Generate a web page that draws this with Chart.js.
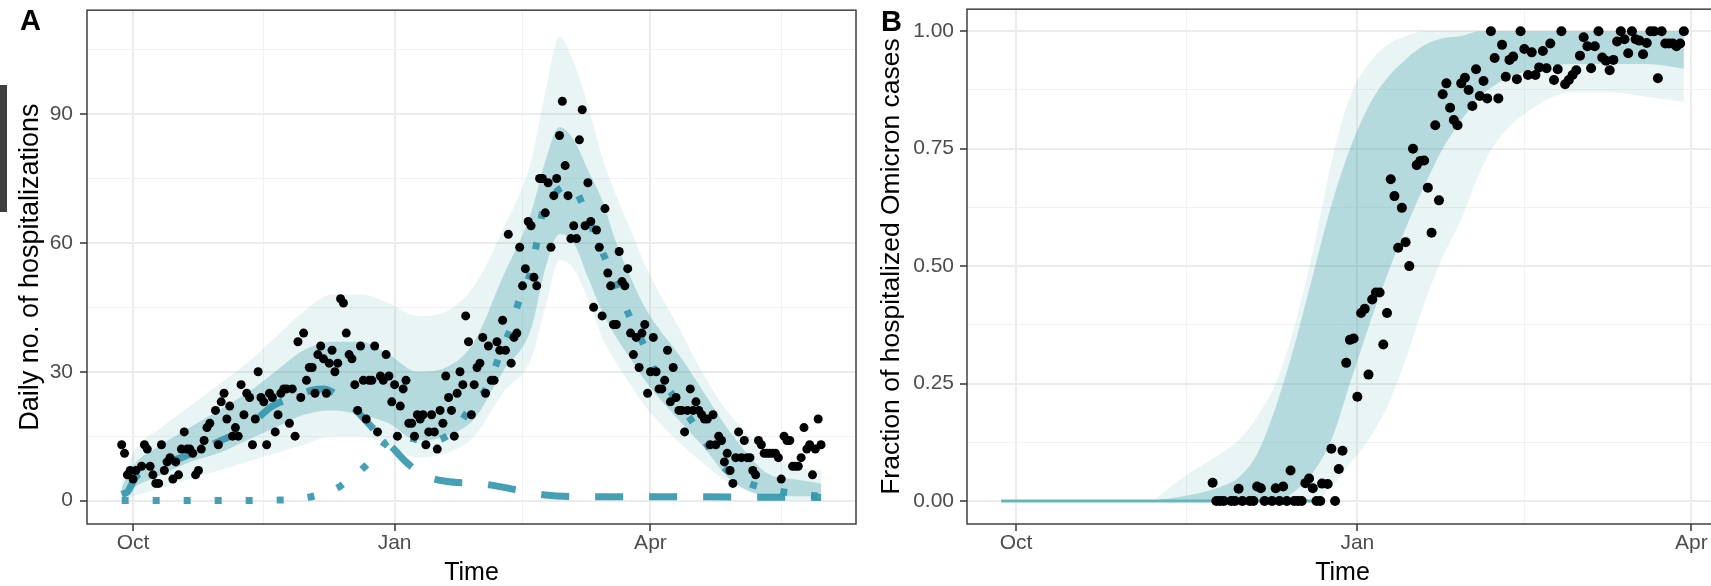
<!DOCTYPE html>
<html lang="en">
<head>
<meta charset="UTF-8">
<title>Hospitalizations and Omicron fraction</title>
<script src="https://cdn.jsdelivr.net/npm/chart.js@4.4.1/dist/chart.umd.min.js"></script>
<style>
  html, body { margin: 0; padding: 0; background: #fff; overflow: hidden; }
  #wrap { position: relative; width: 1711px; height: 586px; overflow: hidden; }
  #boxA { position: absolute; left: 0; top: 0; width: 862px; height: 586px; }
  #boxB { position: absolute; left: 860px; top: 0; width: 866px; height: 586px; }
  .tag { position: absolute; font: bold 29px "Liberation Sans", Arial, sans-serif; line-height: 29px; color: #000; }
  #sideBar { position: absolute; left: 0; top: 85px; width: 7px; height: 127px; background: #3f3f3f; }
</style>
</head>
<body>
<div id="wrap">
  <div id="boxA"><canvas id="chartA"></canvas></div>
  <div id="boxB"><canvas id="chartB"></canvas></div>
  <div class="tag" style="left:20px; top:6px;">A</div>
  <div class="tag" style="left:881px; top:7px;">B</div>
  <div id="sideBar"></div>
</div>
<script>
// x positions are days since 1 Oct
const monthTicks = [0, 92, 182];
const monthLabels = ['Oct', 'Jan', 'Apr'];
const monthMinor = [46, 137, 228];

// ---- panel A: daily hospitalizations ----
const aYTicks = [0, 30, 60, 90];
const aYMinor = [15, 45, 75, 105];

const aObsDays = [-4, -3, -2, -1, 0, 1, 3, 4, 5, 6, 7, 8, 9, 10, 11, 12, 13, 14, 15, 16, 17, 18, 19, 20, 21, 22, 23, 24, 25, 26,
  27, 29, 30, 31, 32, 33, 34, 35, 36, 37, 38, 39, 40, 41, 42, 43, 44, 45, 46, 47, 48, 49, 50, 51, 52, 53, 54, 55, 56, 57,
  58, 59, 60, 61, 62, 63, 64, 65, 66, 67, 68, 69, 70, 71, 72, 73, 74, 75, 76, 77, 78, 79, 80, 81, 82, 83, 84, 85, 86, 87,
  88, 89, 90, 91, 92, 93, 94, 95, 96, 97, 98, 99, 100, 101, 102, 103, 104, 105, 106, 107, 108, 109, 110, 111, 112, 113, 114, 115, 116, 117,
  118, 119, 120, 121, 122, 123, 124, 125, 126, 127, 128, 129, 130, 131, 132, 133, 134, 135, 136, 137, 138, 139, 140, 141, 142, 143, 144, 145, 146, 147,
  148, 149, 150, 151, 152, 153, 154, 155, 156, 157, 158, 159, 160, 161, 162, 163, 164, 165, 166, 167, 168, 169, 170, 171, 172, 173, 174, 175, 176, 177,
  178, 179, 180, 181, 182, 183, 184, 185, 186, 187, 188, 189, 190, 191, 192, 193, 194, 195, 196, 197, 198, 199, 200, 201, 202, 203, 204, 205, 206, 207,
  208, 209, 210, 211, 212, 213, 214, 215, 216, 217, 218, 219, 220, 221, 222, 223, 224, 225, 226, 227, 228, 229, 230, 231, 232, 233, 234, 235, 236, 237,
  238, 239, 240, 241, 242];
const aObserved = [13, 11, 6, 7, 5, 7, 8, 13, 12, 8, 6, 4, 4, 13, 7, 9, 10, 5, 9, 6, 12, 16, 12, 12, 11, 6, 7, 12, 14, 17,
  18, 21, 13, 23, 25, 19, 22, 15, 17, 15, 27, 20, 25, 24, 13, 19, 30, 24, 23, 13, 25, 24, 16, 20, 25, 26, 26, 18, 26, 15,
  37, 24, 39, 28, 31, 31, 25, 34, 36, 33, 25, 32, 35, 30, 32, 47, 46, 39, 34, 33, 27, 21, 36, 28, 19, 28, 28, 36, 16, 29,
  28, 34, 29, 23, 27, 15, 22, 26, 28, 18, 18, 15, 20, 19, 20, 13, 16, 20, 16, 12, 21, 18, 29, 24, 21, 15, 25, 30, 27, 43,
  37, 20, 27, 31, 32, 38, 25, 36, 28, 28, 37, 35, 42, 35, 62, 32, 38, 39, 59, 50, 54, 65, 64, 52, 50, 75, 75, 67, 74, 59,
  71, 75, 85, 93, 78, 71, 61, 64, 61, 84, 91, 64, 74, 65, 45, 63, 59, 43, 68, 53, 50, 41, 41, 58, 51, 50, 54, 39, 34, 38,
  31, 39, 41, 25, 30, 38, 30, 26, 26, 28, 35, 23, 31, 24, 21, 21, 16, 21, 26, 21, 23, 21, 20, 19, 19, 13, 20, 13, 15, 14,
  9, 11, 7, 4, 10, 16, 10, 14, 10, 10, 7, 6, 14, 13, 11, 11, 11, 11, 11, 10, 5, 15, 14, 14, 8, 8, 8, 10, 17, 12,
  13, 6, 12, 19, 13];

const aDeltaDays = [-4, -2, 1, 5, 10, 17, 24, 31, 40, 49, 56, 63, 67, 72, 77, 82, 87, 91, 96, 102, 110, 121, 126, 135, 145, 160, 180, 200, 220, 242];
const aDelta = [1.5, 2, 5.5, 7, 8.5, 10, 12, 14, 17, 22, 24, 25.7, 26, 24.5, 22, 18.5, 15, 12.5, 9, 6, 4.5, 4, 3.6, 2.5, 1.3, 0.9, 0.9, 0.9, 0.8, 0.7];

const aOmicronDays = [-4, 20, 40, 50, 57, 62, 66, 72, 76, 80, 86, 89, 95, 104, 113, 119, 125, 129, 133, 136, 140, 142, 144, 149, 154, 159, 163, 167, 171, 175,
  180, 184, 189, 195, 201, 206, 214, 225, 235, 242];
const aOmicron = [0, 0, 0, 0.1, 0.3, 0.8, 1.5, 3, 5, 7, 11, 13.5, 14.8, 13.7, 16.4, 22, 27, 34, 40.5, 47, 53.6, 60, 67, 72, 73.4, 67.6, 61, 55, 48.5, 42.4,
  35.8, 29.7, 25.3, 20, 14, 9, 4.8, 2.5, 1.5, 1];

const aBandDays = [-4, 0, 10, 20, 30, 40, 50, 60, 70, 80, 90, 100, 110, 120, 130, 140, 145, 150, 155, 160, 165, 170, 175, 180, 193, 200, 210, 224, 232, 242];
const aOuterLow = [0, 1, 3, 5, 7, 9, 11, 13, 15, 15, 13, 10, 11, 15, 25, 33, 45, 56, 54, 47, 38, 32, 27, 22, 13, 9, 4, 1, 0, 0];
const aOuterHigh = [4, 11, 17, 22, 27, 32, 38, 44, 48, 48, 46, 43, 44, 50, 63, 79, 95, 108, 102, 92, 80, 71, 63, 55, 39, 30, 20, 11, 8, 7];
const aCoreLow = [1, 3, 6, 9, 11, 14, 17, 20, 21, 20, 18, 14, 15, 19, 30, 40, 54, 62, 60, 52, 44, 38, 33, 28, 18, 13, 5, 1, 1, 1];
const aCoreHigh = [3, 8, 13, 17, 21, 25, 30, 35, 37, 37, 34, 30, 31, 37, 52, 67, 79, 87, 84, 77, 70, 60, 52, 45, 33, 26, 16, 6, 5, 4];

// ---- panel B: fraction of hospitalized Omicron cases ----
const bYTicks = [0, 0.25, 0.5, 0.75, 1];
const bYMinor = [0.125, 0.375, 0.625, 0.875];

const bObsDays = [53, 54, 55, 56, 58, 59, 60, 61, 63, 64, 65, 66, 67, 69, 70, 71, 72, 73, 74, 75, 76, 77, 78, 79, 80, 81, 82, 82.5, 84, 85,
  86, 87, 88, 89, 90, 91, 92, 93, 94, 95, 96, 97, 98, 99, 100, 101, 102, 103, 104, 105, 106, 107, 108, 109, 110, 111, 112, 113, 114, 115,
  116, 117, 118, 119, 120, 121, 122, 123, 124, 125, 126, 127, 128, 129, 130, 131, 132, 133, 134, 135, 136, 137, 138, 139, 140, 141, 142, 143, 144, 145,
  146, 147, 148, 149, 150, 151, 152, 153, 154, 155, 156, 157, 158, 159, 160, 161, 162, 163, 164, 165, 166, 167, 168, 169, 170, 171, 172, 173, 174, 175,
  176, 177, 178, 179, 180];
const bObserved = [0.039, 0, 0, 0, 0, 0, 0.026, 0, 0, 0, 0.031, 0.027, 0, 0, 0.027, 0, 0.031, 0, 0.065, 0, 0, 0, 0.038, 0.048, 0.027, 0, 0, 0.037, 0.036, 0.111,
  0, 0.068, 0.107, 0.294, 0.343, 0.346, 0.222, 0.4, 0.409, 0.269, 0.429, 0.444, 0.444, 0.333, 0.4, 0.685, 0.649, 0.539, 0.624, 0.551, 0.5, 0.75, 0.715, 0.724, 0.725, 0.667, 0.571, 0.8, 0.64, 0.866,
  0.889, 0.837, 0.811, 0.8, 0.889, 0.901, 0.875, 0.841, 0.919, 0.862, 0.894, 0.857, 1, 0.943, 0.857, 0.971, 0.903, 0.939, 0.946, 0.898, 1, 0.962, 0.907, 0.955, 0.907, 0.923, 0.958, 0.921, 0.974, 0.896,
  0.919, 1, 0.887, 0.896, 0.907, 0.917, 0.948, 0.987, 0.968, 0.921, 0.968, 1, 0.944, 0.937, 0.917, 0.939, 0.978, 1, 0.983, 0.953, 1, 0.983, 0.98, 0.951, 0.975, 1, 1, 0.9, 1, 0.974,
  0.974, 0.974, 0.968, 0.974, 1];

const bZeroDays = [-4, 82];
const bZero = [0, 0];

const bBandDays = [37, 45, 55, 60, 65, 70, 75, 80, 85, 90, 95, 100, 105, 110, 115, 120, 125, 130, 140, 150, 160, 170, 180];
const bOuterLow = [0, 0, 0, 0, 0, 0, 0, 0, 0.03, 0.08, 0.13, 0.2, 0.3, 0.42, 0.52, 0.6, 0.7, 0.77, 0.84, 0.87, 0.87, 0.86, 0.85];
const bOuterHigh = [0, 0.05, 0.1, 0.13, 0.18, 0.25, 0.37, 0.53, 0.72, 0.86, 0.93, 0.97, 0.99, 1, 1, 1, 1, 1, 1, 1, 1, 1, 1];
const bCoreLow = [0, 0, 0, 0, 0, 0, 0.02, 0.06, 0.13, 0.25, 0.37, 0.48, 0.58, 0.67, 0.75, 0.81, 0.86, 0.89, 0.92, 0.93, 0.93, 0.93, 0.92];
const bCoreHigh = [0, 0.01, 0.03, 0.05, 0.1, 0.2, 0.33, 0.48, 0.63, 0.75, 0.84, 0.9, 0.94, 0.97, 0.985, 0.99, 1, 1, 1, 1, 1, 1, 1];

// ---- styling ----
const FONT = '"Liberation Sans", Arial, sans-serif';
const DASH = 'rgba(52,152,175,0.92)';
const BAND_OUT = 'rgba(70,165,170,0.12)';
const BAND_CORE = 'rgba(70,165,170,0.32)';
const NONE = 'rgba(0,0,0,0)';

const pts = (xs, ys) => xs.map((x, i) => ({ x: x, y: ys[i] }));

function xScale(min, max) {
  const minor = monthMinor.filter(v => v > min && v < max);
  return {
    type: 'linear', min: min, max: max,
    afterBuildTicks: s => { s.ticks = monthTicks.concat(minor).sort((a, b) => a - b).map(v => ({ value: v })); },
    afterFit: s => { s.height = 62; },
    ticks: {
      autoSkip: false, maxRotation: 0, padding: 0, color: '#4d4d4d',
      font: { family: FONT, size: 21 },
      callback: v => { const i = monthTicks.indexOf(v); return i >= 0 ? monthLabels[i] : ''; }
    },
    grid: {
      color: c => monthTicks.includes(c.tick.value) ? '#ebebeb' : '#f2f2f2',
      lineWidth: c => monthTicks.includes(c.tick.value) ? 2 : 1,
      tickColor: c => monthTicks.includes(c.tick.value) ? '#333333' : NONE,
      tickLength: 7, tickWidth: 1.5
    },
    border: { display: false },
    title: { display: true, text: 'Time', color: '#000', font: { family: FONT, size: 25, lineHeight: 1 }, padding: { top: 0, bottom: 0 } }
  };
}

function yScale(min, max, major, minor, fmt, text, width, pad, titlePad, titleSize) {
  return {
    type: 'linear', min: min, max: max,
    afterBuildTicks: s => { s.ticks = major.concat(minor).sort((a, b) => a - b).map(v => ({ value: v })); },
    afterFit: s => { s.width = width; },
    ticks: {
      autoSkip: false, padding: pad, color: '#4d4d4d',
      // small lineHeight keeps Chart.js from padding the top of the plot
      font: { family: FONT, size: 21, lineHeight: 0.3 },
      callback: v => major.includes(v) ? fmt(v) : ''
    },
    grid: {
      color: c => major.includes(c.tick.value) ? '#ebebeb' : '#f2f2f2',
      lineWidth: c => major.includes(c.tick.value) ? 2 : 1,
      tickColor: c => major.includes(c.tick.value) ? '#333333' : NONE,
      tickLength: 7, tickWidth: 1.5
    },
    border: { display: false },
    title: { display: true, text: text, color: '#000', font: { family: FONT, size: titleSize, lineHeight: 1 }, padding: { top: titlePad, bottom: 0 } }
  };
}

// panel border drawn over the data
const frame = {
  id: 'frame',
  afterDatasetsDraw(chart) {
    const { ctx, chartArea: a } = chart;
    ctx.save();
    ctx.strokeStyle = '#333333';
    ctx.lineWidth = 1.4;
    ctx.strokeRect(a.left, a.top, a.right - a.left, a.bottom - a.top);
    ctx.restore();
  }
};

function bandSets(days, outLo, outHi, coreLo, coreHi, firstIndex) {
  const base = { showLine: true, pointRadius: 0, borderWidth: 0, borderColor: NONE, cubicInterpolationMode: 'monotone' };
  return [
    Object.assign({ label: 'outer low', data: pts(days, outLo), fill: false, order: 4 }, base),
    Object.assign({ label: 'outer high', data: pts(days, outHi), fill: { target: firstIndex }, backgroundColor: BAND_OUT, order: 4 }, base),
    Object.assign({ label: 'core low', data: pts(days, coreLo), fill: false, order: 3 }, base),
    Object.assign({ label: 'core high', data: pts(days, coreHi), fill: { target: firstIndex + 2 }, backgroundColor: BAND_CORE, order: 3 }, base)
  ];
}

const common = {
  responsive: true,
  maintainAspectRatio: false,
  animation: false,
  events: [],
  plugins: { legend: { display: false }, tooltip: { enabled: false } }
};

new Chart(document.getElementById('chartA'), {
  type: 'scatter',
  data: {
    datasets: [
      { label: 'Observed', data: pts(aObsDays, aObserved), pointRadius: 4.5, pointBackgroundColor: '#000', pointBorderWidth: 0, showLine: false, order: 0 },
      { label: 'Delta', data: pts(aDeltaDays, aDelta), showLine: true, pointRadius: 0, borderColor: DASH, borderWidth: 7, borderDash: [28, 26], cubicInterpolationMode: 'monotone', order: 1 },
      { label: 'Omicron', data: pts(aOmicronDays, aOmicron), showLine: true, pointRadius: 0, borderColor: DASH, borderWidth: 7, borderDash: [7, 24], cubicInterpolationMode: 'monotone', order: 1 }
    ].concat(bandSets(aBandDays, aOuterLow, aOuterHigh, aCoreLow, aCoreHigh, 3))
  },
  options: Object.assign({}, common, {
    layout: { padding: { left: 0, right: 6, top: 0, bottom: 0 } },
    scales: {
      x: xScale(-16.2, 254.3),
      y: yScale(-5.45, 114.2, aYTicks, aYMinor, v => String(v), 'Daily no. of hospitalizations', 87, 7, 17, 27)
    }
  }),
  plugins: [frame]
});

new Chart(document.getElementById('chartB'), {
  type: 'scatter',
  data: {
    datasets: [
      { label: 'Observed', data: pts(bObsDays, bObserved), pointRadius: 5, pointBackgroundColor: '#000', pointBorderWidth: 0, showLine: false, order: 0 },
      { label: 'zero', data: pts(bZeroDays, bZero), showLine: true, pointRadius: 0, borderColor: 'rgba(95,180,185,0.95)', borderWidth: 3, order: 2 },
      { label: 'spacer', data: [], showLine: false, order: 5 }
    ].concat(bandSets(bBandDays, bOuterLow, bOuterHigh, bCoreLow, bCoreHigh, 3))
  },
  options: Object.assign({}, common, {
    layout: { padding: { left: 0, right: 8, top: 0, bottom: 0 } },
    scales: {
      x: xScale(-13.2, 189.2),
      y: yScale(-0.049, 1.047, bYTicks, bYMinor, v => v.toFixed(2), 'Fraction of hospitalized Omicron cases', 107, 6, 18.5, 26.5)
    }
  }),
  plugins: [frame]
});
</script>
</body>
</html>
